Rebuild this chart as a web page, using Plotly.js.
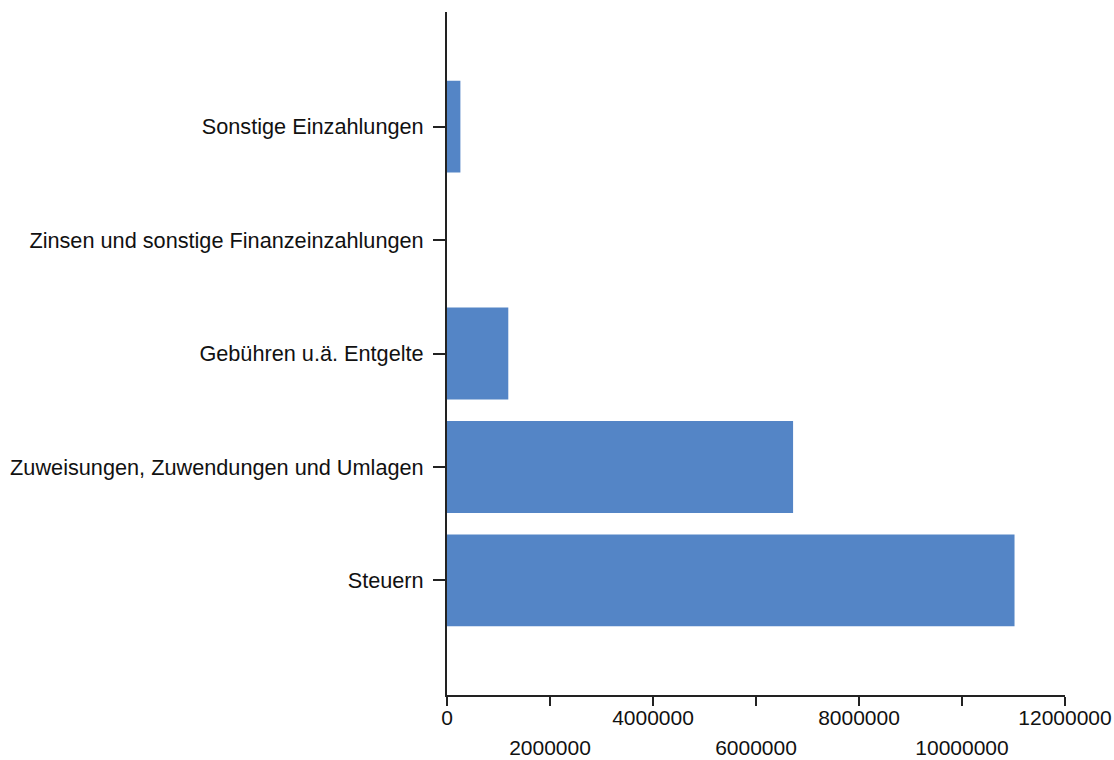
<!DOCTYPE html>
<html>
<head>
<meta charset="utf-8">
<script src="https://cdn.plot.ly/plotly-3.0.1.min.js"></script>
<style>html,body{margin:0;padding:0;background:#fff;}#chart{width:1114px;height:760px;}</style>
</head>
<body>
<div id="chart"></div>
<script>
const categories = [
  "Steuern",
  "Zuweisungen, Zuwendungen und Umlagen",
  "Gebühren u.ä. Entgelte",
  "Zinsen und sonstige Finanzeinzahlungen",
  "Sonstige Einzahlungen"
];
const values = [11020000, 6720000, 1190000, 0, 260000];
const upperTicks = [0, 4000000, 8000000, 12000000];
const lowerTicks = [2000000, 6000000, 10000000];
const allTicks = [0, 2000000, 4000000, 6000000, 8000000, 10000000, 12000000];

const fontFam = '"Liberation Sans", Arial, sans-serif';

const traces = [
  {
    type: 'bar',
    orientation: 'h',
    x: values,
    y: categories,
    marker: {color: '#5485c6', line: {width: 0}},
    hoverinfo: 'x+y',
    xaxis: 'x',
    yaxis: 'y'
  },
  {
    type: 'scatter',
    mode: 'markers',
    x: [0],
    y: [categories[0]],
    marker: {opacity: 0},
    hoverinfo: 'skip',
    showlegend: false,
    xaxis: 'x2',
    yaxis: 'y'
  }
];

const layout = {
  width: 1114,
  height: 760,
  margin: {l: 447, r: 49, t: 12, b: 65},
  paper_bgcolor: '#ffffff',
  plot_bgcolor: '#ffffff',
  showlegend: false,
  bargap: 0.19,
  font: {family: fontFam, size: 21, color: '#111'},
  xaxis: {
    range: [0, 12000000],
    tickvals: allTicks,
    ticktext: allTicks.map(v => upperTicks.includes(v) ? String(v) : ''),
    ticks: 'outside',
    ticklen: 9,
    tickwidth: 2,
    tickcolor: '#222',
    showline: true,
    linecolor: '#222',
    linewidth: 2,
    showgrid: false,
    zeroline: false,
    ticklabelstandoff: -6,
    tickfont: {family: fontFam, size: 21, color: '#111'},
    fixedrange: true
  },
  xaxis2: {
    overlaying: 'x',
    anchor: 'y',
    side: 'bottom',
    range: [0, 12000000],
    tickvals: lowerTicks,
    ticktext: lowerTicks.map(v => String(v)),
    ticks: '',
    showline: false,
    showgrid: false,
    zeroline: false,
    ticklabelstandoff: 38,
    tickfont: {family: fontFam, size: 21, color: '#111'},
    fixedrange: true
  },
  yaxis: {
    type: 'category',
    categoryorder: 'array',
    categoryarray: categories,
    range: [-1.01, 5.01],
    ticks: 'outside',
    ticklen: 12,
    tickwidth: 2,
    tickcolor: '#222',
    showline: true,
    linecolor: '#222',
    linewidth: 2,
    showgrid: false,
    zeroline: false,
    ticklabelstandoff: 5,
    tickfont: {family: fontFam, size: 21.7, color: '#111'},
    fixedrange: true
  }
};

Plotly.newPlot('chart', traces, layout, {displayModeBar: false, responsive: false});
</script>
</body>
</html>
